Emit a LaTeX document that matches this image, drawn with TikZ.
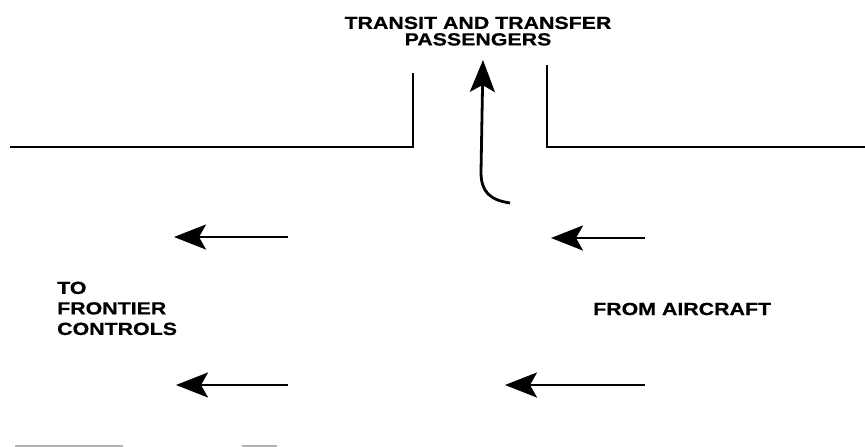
\documentclass[tikz,border=0pt]{standalone}
\usepackage{fontspec}
\setmainfont[FakeStretch=1.22,FakeBold=0.6]{Liberation Sans}
\usetikzlibrary{arrows.meta}
\begin{document}
\begin{tikzpicture}[x=1pt,y=-1pt,
  wall/.style={line width=2.2pt},
  flow/.style={line width=2.8pt,-{Stealth[length=32pt,width=25pt,inset=7pt]}},
  lbl/.style={inner sep=0pt,font=\fontsize{17.5}{19}\selectfont\bfseries}]
\useasboundingbox (0,0) rectangle (865,447);
% walls
\draw[wall] (10,147) -- (413,147) -- (413,73);
\draw[wall] (547,65) -- (547,147) -- (865,147);
% labels
\node[lbl,anchor=north,align=center,font=\fontsize{17.5}{16.5}\selectfont\bfseries] (transit) at (478,16.5) {TRANSIT AND TRANSFER\\PASSENGERS};
\node[lbl,anchor=north west,align=left,font=\fontsize{17.5}{20.5}\selectfont\bfseries] (tofront) at (57,281.5) {TO\\FRONTIER\\CONTROLS};
\node[lbl,anchor=west] (fromac) at (593,309) {FROM AIRCRAFT};
% arrows
\coordinate (c0) at (510,203);
\coordinate (c1) at (483,60);
\draw[flow] (c0) .. controls (490,200) and (481,192) .. (481,172) -- (c1);
\coordinate (a1s) at (288,237); \coordinate (a1e) at (174,237);
\coordinate (a2s) at (645,238); \coordinate (a2e) at (551,238);
\coordinate (a3s) at (288,385); \coordinate (a3e) at (176,385);
\coordinate (a4s) at (645,385); \coordinate (a4e) at (505,385);
\draw[flow] (a1s) -- (a1e);
\draw[flow] (a2s) -- (a2e);
\draw[flow] (a3s) -- (a3e);
\draw[flow] (a4s) -- (a4e);
% scan strips at bottom edge
\draw[line width=1.5pt,gray!60] (15,446) -- (123,446);
\draw[line width=1.5pt,gray!60] (242,446) -- (277,446);
\end{tikzpicture}
\end{document}
